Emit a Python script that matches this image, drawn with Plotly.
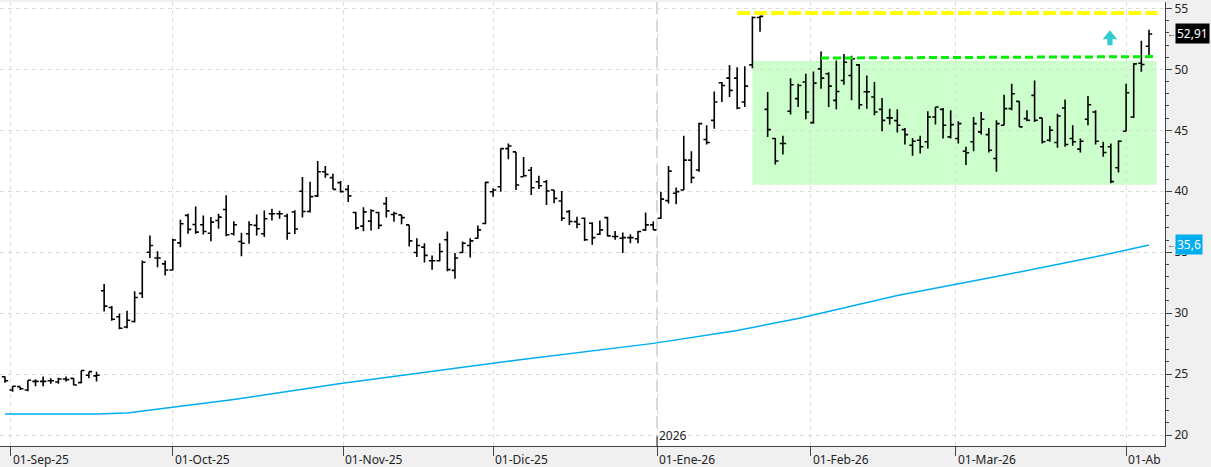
import numpy as np
import pandas as pd
import plotly.graph_objects as go

# ---------------- data ----------------
holidays = ["2025-09-01", "2025-11-27", "2025-12-25", "2026-01-01",
            "2026-01-19", "2026-02-16", "2026-04-03"]
dates = pd.bdate_range("2025-08-29", "2026-04-07", freq="C", holidays=holidays)

opens = [24.78, 23.70, 23.97, 23.70, 24.40, 24.40, 24.45, 24.35, 24.60, 24.65,
         24.30, 24.90, 24.85, 31.84, 30.47, 29.70, 28.87, 29.31, 31.62, 35.00,
         34.53, 34.04, 33.54, 35.77, 38.02, 37.28, 37.25, 36.56, 37.60, 38.50,
         36.51, 35.88, 36.51, 37.20, 36.51, 38.16, 38.16, 37.97, 38.30, 40.00,
         38.34, 39.62, 41.60, 41.12, 40.71, 40.16, 38.26, 37.14, 37.55, 38.26,
         38.99, 38.10, 38.06, 37.24, 34.98, 35.42, 34.30, 34.30, 36.02, 33.51,
         34.98, 35.55, 36.15, 37.35, 39.96, 40.37, 43.50, 43.23, 41.19, 41.73,
         40.78, 40.78, 40.10, 39.20, 38.33, 37.51, 37.79, 37.38, 36.48, 37.84,
         36.29, 36.15, 36.20, 36.10, 36.83, 37.24, 37.79, 39.23, 39.84, 40.11,
         42.56, 41.74, 44.25, 45.82, 48.90, 49.28, 49.28, 47.32, 50.37, 54.26,
         46.72, 44.33, 43.92, 46.56, 47.60, 48.96, 45.63, 50.04, 49.64, 47.46,
         49.09, 49.50, 50.37, 48.17, 47.73, 46.72, 46.02, 45.80, 45.06, 43.78,
         44.19, 44.06, 46.10, 46.72, 44.46, 44.33, 43.29, 44.06, 44.87, 44.65,
         42.69, 45.42, 46.78, 47.38, 45.96, 47.87, 46.02, 44.19, 44.00, 46.83,
         44.33, 43.46, 45.91, 46.51, 43.65, 43.65, 41.93, 44.93, 46.10, 50.50,
         51.90]
highs = [24.80, 24.00, 23.97, 24.50, 24.57, 24.80, 24.65, 24.70, 24.80, 24.65,
         25.30, 25.20, 25.20, 32.39, 30.58, 29.97, 30.19, 31.79, 34.31, 36.37,
         35.08, 34.31, 36.10, 37.66, 38.16, 38.76, 38.02, 37.88, 38.16, 39.67,
         37.55, 36.59, 37.55, 38.10, 38.43, 38.57, 38.40, 38.16, 38.45, 41.17,
         40.79, 42.48, 42.07, 41.44, 40.84, 40.52, 38.31, 38.69, 38.53, 38.31,
         39.54, 38.31, 38.06, 37.24, 36.15, 35.74, 34.74, 35.74, 36.70, 34.93,
         35.88, 36.15, 37.19, 40.78, 40.24, 43.50, 43.91, 43.23, 42.82, 42.00,
         41.27, 40.92, 40.10, 40.02, 38.47, 37.92, 37.84, 37.46, 37.60, 37.92,
         36.75, 36.61, 36.48, 36.75, 38.25, 37.51, 39.96, 42.08, 40.30, 44.55,
         43.29, 45.63, 45.42, 48.19, 48.96, 50.37, 50.18, 50.26, 54.35, 54.40,
         48.14, 44.38, 44.55, 49.28, 48.82, 49.64, 49.83, 51.46, 49.77, 50.73,
         51.27, 51.13, 50.45, 49.50, 48.96, 47.65, 46.78, 46.72, 45.20, 44.38,
         44.55, 46.56, 46.91, 46.83, 46.64, 45.74, 43.65, 46.10, 46.51, 45.20,
         45.82, 47.92, 48.82, 47.38, 46.64, 49.09, 46.02, 45.36, 46.37, 47.54,
         45.42, 44.33, 47.81, 46.64, 44.06, 43.92, 44.19, 48.82, 50.51, 52.36,
         53.26]
lows = [24.29, 23.55, 23.70, 23.60, 24.00, 24.00, 24.20, 24.20, 24.40, 24.10,
        24.25, 24.65, 24.40, 30.14, 29.37, 28.68, 28.76, 29.23, 31.24, 34.53,
        33.76, 33.08, 33.49, 35.41, 36.51, 36.51, 36.46, 35.90, 36.92, 36.32,
        36.37, 34.67, 35.69, 36.37, 36.24, 37.60, 37.75, 36.02, 36.50, 37.85,
        38.26, 39.54, 41.12, 40.16, 39.89, 39.13, 36.87, 36.73, 36.79, 36.90,
        37.85, 37.50, 37.30, 35.47, 34.60, 34.16, 33.57, 34.25, 33.43, 32.83,
        34.93, 34.57, 36.10, 37.30, 39.56, 39.96, 42.63, 40.10, 41.19, 39.69,
        40.18, 38.87, 39.01, 37.57, 37.24, 36.97, 35.93, 35.61, 36.42, 36.29,
        36.02, 34.93, 35.74, 35.74, 36.75, 36.83, 37.73, 39.00, 38.94, 40.11,
        40.65, 41.60, 43.84, 45.14, 47.32, 47.73, 46.72, 46.91, 50.10, 53.09,
        44.46, 42.20, 43.02, 46.29, 46.91, 45.91, 45.55, 48.41, 46.91, 46.72,
        48.74, 47.46, 46.72, 46.78, 46.23, 44.93, 45.47, 44.82, 43.84, 42.91,
        43.10, 43.51, 45.47, 44.33, 44.33, 43.92, 42.15, 43.29, 44.65, 43.18,
        41.60, 45.42, 46.64, 45.28, 45.74, 45.69, 43.92, 44.06, 43.57, 43.65,
        43.73, 43.18, 45.42, 43.84, 42.83, 40.65, 41.55, 44.93, 46.02, 49.80,
        51.19]
closes = [24.45, 24.00, 23.80, 24.50, 24.40, 24.40, 24.45, 24.60, 24.55, 24.10,
          25.30, 25.20, 24.90, 30.58, 29.50, 28.76, 29.42, 31.29, 34.18, 35.55,
          34.53, 33.54, 36.00, 37.33, 36.87, 36.65, 36.70, 37.47, 37.88, 36.43,
          37.25, 35.74, 37.25, 36.92, 37.75, 38.16, 38.16, 36.56, 36.90, 38.34,
          39.56, 41.60, 41.39, 40.16, 39.97, 39.62, 37.00, 38.31, 38.40, 37.20,
          38.39, 38.18, 37.84, 35.93, 35.55, 34.74, 34.30, 35.06, 33.57, 34.52,
          35.74, 35.93, 36.83, 40.73, 40.10, 43.50, 43.72, 40.51, 41.27, 40.29,
          40.45, 40.02, 39.42, 37.79, 37.52, 37.30, 36.02, 36.20, 36.83, 36.34,
          36.29, 36.20, 36.20, 36.70, 37.24, 36.83, 39.36, 41.65, 39.97, 42.56,
          41.12, 45.55, 44.00, 47.32, 48.68, 48.28, 46.83, 48.63, 54.26, 54.35,
          45.06, 42.48, 43.92, 48.74, 48.68, 46.51, 48.87, 49.28, 48.63, 48.19,
          50.59, 50.86, 47.10, 48.17, 46.51, 45.82, 46.02, 45.42, 44.65, 44.10,
          43.65, 46.10, 46.91, 45.42, 45.47, 45.55, 43.16, 45.55, 45.91, 43.37,
          45.55, 46.78, 48.00, 45.28, 45.83, 45.83, 44.06, 45.01, 46.18, 43.84,
          44.06, 44.11, 47.10, 44.11, 43.18, 40.79, 44.11, 48.08, 50.45, 50.40,
          52.91]

# long moving average (read at a few dates)
ma_dates = ["2025-08-29", "2025-09-17", "2025-09-23", "2025-10-01", "2025-10-13",
            "2025-10-31", "2025-11-12", "2025-12-04", "2025-12-31", "2026-01-16",
            "2026-01-29", "2026-02-18", "2026-03-09", "2026-03-26", "2026-04-07"]
ma_values = [21.72, 21.72, 21.80, 22.26, 22.92, 24.22, 24.90, 26.13, 27.52, 28.58,
             29.56, 31.44, 33.00, 34.62, 35.60]

month_starts = ["2025-09-01", "2025-10-01", "2025-11-01", "2025-12-01",
                "2026-01-01", "2026-02-01", "2026-03-01", "2026-04-01"]
month_labels = ["01-Sep-25", "01-Oct-25", "01-Nov-25", "01-Dic-25",
                "01-Ene-26", "01-Feb-26", "01-Mar-26", "01-Ab"]
year_start = "2026-01-01"
year_label = "2026"

# drawn levels
resist_level = 54.63
resist_from = "2026-01-16"
box_top, box_bottom = 50.71, 40.53
box_from = "2026-01-21"
break_from, break_to_values = "2026-02-03", (50.93, 51.05)
signal_date, signal_level = "2026-03-27", 53.22

y_ticks = [20, 25, 30, 35, 40, 45, 50, 55]

# ---------------- helpers ----------------
xi = np.arange(len(dates))
ords = np.array([d.toordinal() for d in dates])


def pos(d):
    return float(np.interp(pd.Timestamp(d).toordinal(), ords, xi))


tick_pos = [pos(m) for m in month_starts]
last = xi[-1]

FONT = "Noto Sans"
fig = go.Figure()

fig.add_trace(go.Ohlc(
    x=xi, open=opens, high=highs, low=lows, close=closes,
    increasing=dict(line=dict(color="#000000", width=1.6)),
    decreasing=dict(line=dict(color="#000000", width=1.6)),
    tickwidth=0.42, showlegend=False,
    text=[d.strftime("%d-%m-%Y") for d in dates], hoverinfo="text+y",
))

fig.add_trace(go.Scatter(
    x=[pos(d) for d in ma_dates], y=ma_values, mode="lines",
    line=dict(color="#00aeef", width=1.5), showlegend=False, hoverinfo="skip",
))

# up-arrow signal marker (pixel-sized path anchored at the signal bar)
arrow_path = ("M 6.7,0 L 14,-9 L 9.3,-9 L 9.3,-15 L 4.1,-15 L 4.1,-9 "
              "L -0.6,-9 Z")

shapes = [
    dict(type="rect", xref="x", yref="y", x0=pos(box_from), x1=last + 1.0,
         y0=box_bottom, y1=box_top, fillcolor="#ccffcc", line=dict(width=0),
         layer="below"),
    dict(type="line", xref="x", yref="y", x0=pos(resist_from), x1=last + 1.1,
         y0=resist_level, y1=resist_level,
         line=dict(color="#ffff00", width=4, dash="13px,4px")),
    dict(type="line", xref="x", yref="y", x0=pos(break_from), x1=last + 1.0,
         y0=break_to_values[0], y1=break_to_values[1],
         line=dict(color="#00ee00", width=3, dash="8px,4px")),
    dict(type="line", xref="x", yref="paper", x0=pos(year_start), x1=pos(year_start),
         y0=0, y1=1, line=dict(color="#c8c8c8", width=1.5, dash="12px,6px"),
         layer="below"),
    dict(type="line", xref="x", yref="paper", x0=pos(year_start), x1=pos(year_start),
         y0=0, y1=0.022, line=dict(color="#444444", width=1.2)),
    dict(type="path", xref="x", yref="y", xsizemode="pixel", ysizemode="pixel",
         xanchor=pos(signal_date), yanchor=signal_level, path=arrow_path,
         fillcolor="#33cccc", line=dict(width=0)),
]

annotations = []
for tp, lab in zip(tick_pos, month_labels):
    annotations.append(dict(x=tp, y=0, xref="x", yref="paper", text=lab,
                            showarrow=False, xanchor="left", yanchor="top",
                            xshift=0, yshift=-3,
                            font=dict(family=FONT, size=12, color="#222222")))
annotations.append(dict(x=pos(year_start), y=0, xref="x", yref="paper",
                        text=year_label, showarrow=False, xanchor="left",
                        yanchor="bottom", xshift=0, yshift=0,
                        font=dict(family=FONT, size=12, color="#222222")))

last_close = closes[-1]
last_ma = ma_values[-1]
for val, txt, bg in [(last_close, f"{last_close:.2f}".replace(".", ","), "#000000"),
                     (last_ma, f"{last_ma:.1f}".replace(".", ","), "#00aeef")]:
    annotations.append(dict(x=1, y=val, xref="paper", yref="y", text="←",
                            showarrow=False, xanchor="left", yanchor="middle",
                            xshift=0, font=dict(family=FONT, size=9, color="#555555")))
    annotations.append(dict(x=1, y=val, xref="paper", yref="y", text=txt,
                            showarrow=False, xanchor="left", yanchor="middle",
                            xshift=10, bgcolor=bg, borderpad=1,
                            font=dict(family=FONT, size=12, color="#ffffff")))

fig.update_layout(
    width=1211, height=467,
    margin=dict(l=0, r=46, t=0, b=21, pad=0),
    paper_bgcolor="#f0f0f0", plot_bgcolor="#ffffff",
    font=dict(family=FONT, size=12, color="#222222"),
    shapes=shapes, annotations=annotations,
    showlegend=False,
    xaxis=dict(range=[-0.656, 152.1], tickmode="array", tickvals=tick_pos,
               showticklabels=False, ticks="outside", ticklen=9, tickcolor="#444444",
               showline=True, linecolor="#444444", linewidth=1,
               showgrid=True, gridcolor="#dcdcdc", griddash="4px,4px", gridwidth=1,
               zeroline=False, rangeslider=dict(visible=False), fixedrange=True),
    yaxis=dict(range=[19.1, 55.53], side="right", tickmode="array", tickvals=y_ticks,
               ticks="outside", ticklen=6, tickcolor="#444444",
               ticklabeloverflow="allow",
               minor=dict(dtick=1, tick0=0, ticks="outside", ticklen=3,
                          tickcolor="#444444", showgrid=False),
               showline=True, linecolor="#444444", linewidth=1,
               showgrid=True, gridcolor="#dcdcdc", griddash="4px,4px", gridwidth=1,
               zeroline=False, tickfont=dict(family=FONT, size=12, color="#222222"),
               fixedrange=True),
)

fig.write_html("out.html")
